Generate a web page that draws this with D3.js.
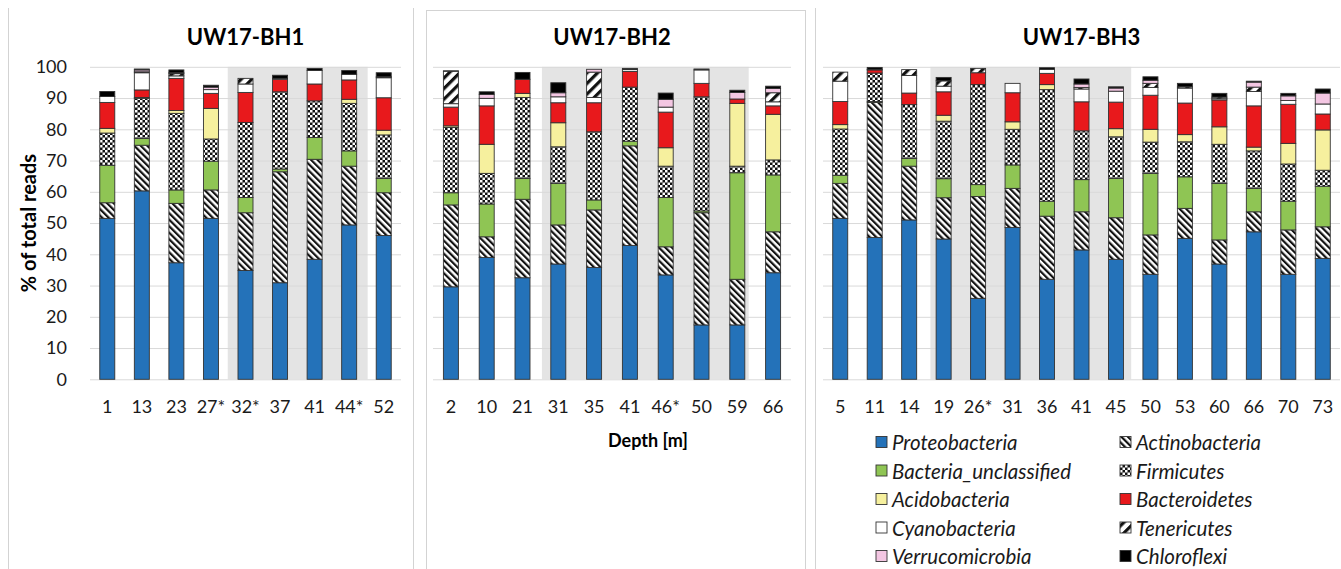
<!DOCTYPE html>
<html>
<head>
<meta charset="utf-8">
<script src="https://cdn.jsdelivr.net/npm/d3@7"></script>
<style>
  html, body { margin: 0; padding: 0; background: #ffffff; }
  svg { display: block; font-family: Lato, "Open Sans", "Liberation Sans", sans-serif; }
</style>
</head>
<body>
<svg id="chart" width="1341" height="569"></svg>
<script>
// ---- Phyla, bottom of stack first ----
const phyla = ["Proteobacteria", "Actinobacteria", "Bacteria_unclassified", "Firmicutes",
  "Acidobacteria", "Bacteroidetes", "Cyanobacteria", "Tenericutes", "Verrucomicrobia", "Chloroflexi"];

const yTicks = [0, 10, 20, 30, 40, 50, 60, 70, 80, 90, 100];

// ---- UW17-BH1 ----
const bh1Depths = ["1", "13", "23", "27*", "32*", "37", "41", "44*", "52"];
const bh1Proteobacteria        = [51.5, 60.3, 37.3, 51.5, 34.8, 30.9, 38.4, 49.4, 46.0];
const bh1Actinobacteria        = [5.0, 14.6, 19.0, 9.1, 18.5, 35.5, 32.0, 18.8, 13.7];
const bh1BacteriaUnclassified  = [12.0, 2.2, 4.3, 9.2, 4.9, 0.9, 7.0, 4.9, 4.6];
const bh1Firmicutes            = [10.3, 12.8, 24.5, 7.1, 24.0, 24.7, 11.7, 15.2, 13.9];
const bh1Acidobacteria         = [1.5, 0.3, 0.9, 9.8, 0, 0, 0, 1.3, 1.5];
const bh1Bacteroidetes         = [8.3, 2.4, 10.3, 4.8, 9.6, 4.0, 5.4, 6.2, 10.4];
const bh1Cyanobacteria         = [1.9, 5.5, 0.8, 1.2, 2.7, 0.3, 4.3, 1.8, 6.4];
const bh1Tenericutes           = [0, 0.3, 0.7, 0, 1.8, 0, 0, 0, 0.3];
const bh1Verrucomicrobia       = [0, 0.6, 0.3, 0.8, 0, 0, 0, 0, 0];
const bh1Chloroflexi           = [1.6, 0.3, 0.9, 0.6, 0, 1.0, 0.7, 1.2, 1.3];

// ---- UW17-BH2 ----
const bh2Depths = ["2", "10", "21", "31", "35", "41", "46*", "50", "59", "66"];
const bh2Proteobacteria        = [29.6, 39.0, 32.5, 36.9, 35.8, 42.8, 33.4, 17.4, 17.4, 34.1];
const bh2Actinobacteria        = [26.2, 6.6, 25.1, 12.5, 18.4, 31.9, 9.0, 35.9, 14.6, 13.1];
const bh2BacteriaUnclassified  = [3.9, 10.5, 6.7, 13.3, 3.2, 1.5, 15.8, 0.6, 34.1, 18.2];
const bh2Firmicutes            = [20.9, 9.8, 25.9, 11.7, 21.8, 17.3, 10.0, 36.5, 2.1, 4.8];
const bh2Acidobacteria         = [0.5, 9.3, 1.3, 7.7, 0, 0, 5.9, 0, 20.1, 14.6];
const bh2Bacteroidetes         = [6.0, 12.3, 4.5, 6.4, 9.3, 5.0, 11.4, 4.3, 1.4, 2.7];
const bh2Cyanobacteria         = [1.1, 2.4, 0, 1.9, 1.7, 0.6, 1.6, 4.3, 0, 1.3];
const bh2Tenericutes           = [10.4, 0, 0, 0, 8.1, 0, 0, 0, 0, 2.9];
const bh2Verrucomicrobia       = [0, 1.3, 0, 1.3, 0.9, 0, 2.5, 0, 2.1, 1.4];
const bh2Chloroflexi           = [0.1, 0.8, 2.2, 3.2, 0, 0.4, 2.0, 0.3, 0.7, 0.7];

// ---- UW17-BH3 ----
const bh3Depths = ["5", "11", "14", "19", "26*", "31", "36", "41", "45", "50", "53", "60", "66", "70", "73"];
const bh3Proteobacteria        = [51.5, 45.4, 51.0, 44.9, 25.9, 48.6, 32.0, 41.4, 38.4, 33.6, 45.1, 36.9, 47.2, 33.6, 38.7];
const bh3Actinobacteria        = [11.2, 43.2, 17.2, 13.2, 32.6, 12.5, 20.2, 12.2, 13.3, 12.6, 9.6, 7.7, 6.4, 14.2, 10.1];
const bh3BacteriaUnclassified  = [2.6, 0.3, 2.5, 6.1, 3.8, 7.5, 4.8, 10.3, 12.6, 19.7, 10.1, 18.1, 7.5, 9.2, 13.0];
const bh3Firmicutes            = [14.8, 9.1, 17.2, 18.4, 32.0, 11.4, 35.7, 15.6, 13.3, 10.0, 11.2, 12.5, 12.0, 11.9, 5.1];
const bh3Acidobacteria         = [1.4, 0, 0, 1.9, 0, 2.4, 1.6, 0, 2.6, 4.1, 2.3, 5.6, 1.2, 6.6, 12.9];
const bh3Bacteroidetes         = [7.4, 1.0, 3.7, 7.5, 3.8, 9.3, 3.6, 9.3, 8.5, 10.9, 10.1, 8.6, 13.2, 12.5, 5.1];
const bh3Cyanobacteria         = [6.5, 0.2, 5.6, 1.8, 0, 3.0, 1.3, 4.1, 3.5, 2.5, 4.8, 0.4, 4.6, 1.2, 3.2];
const bh3Tenericutes           = [2.9, 0, 1.9, 1.7, 1.4, 0, 0, 0.5, 0, 1.3, 0.4, 0.5, 1.4, 0, 0];
const bh3Verrucomicrobia       = [0, 0, 0, 0, 0, 0, 0, 1.1, 1.0, 1.0, 0, 0, 1.6, 1.5, 3.5];
const bh3Chloroflexi           = [0, 0.6, 0, 1.1, 0, 0, 0.5, 1.6, 0.4, 1.1, 1.1, 1.2, 0.3, 0.8, 1.3];

// Shaded depth ranges, as first/last shaded depth per borehole
const bh1Shaded = ["32*", "44*"];
const bh2Shaded = ["31", "59"];
const bh3Shaded = ["19", "45"];

// ---- Layout ----
const W = 1341, H = 569;
const svg = d3.select("#chart");
const y = d3.scaleLinear().domain([0, 100]).range([379.3, 66.8]);
const barW = 15;
const segStroke = "#333333";

const panels = [
  { title: "UW17-BH1", depths: bh1Depths, shaded: bh1Shaded, range: [90, 401], shadeInset: [-0.5, 1.2],
    series: [bh1Proteobacteria, bh1Actinobacteria, bh1BacteriaUnclassified, bh1Firmicutes, bh1Acidobacteria,
             bh1Bacteroidetes, bh1Cyanobacteria, bh1Tenericutes, bh1Verrucomicrobia, bh1Chloroflexi] },
  { title: "UW17-BH2", depths: bh2Depths, shaded: bh2Shaded, range: [433, 791], shadeInset: [1.5, -6.5],
    series: [bh2Proteobacteria, bh2Actinobacteria, bh2BacteriaUnclassified, bh2Firmicutes, bh2Acidobacteria,
             bh2Bacteroidetes, bh2Cyanobacteria, bh2Tenericutes, bh2Verrucomicrobia, bh2Chloroflexi] },
  { title: "UW17-BH3", depths: bh3Depths, shaded: bh3Shaded, range: [823, 1340], shadeInset: [4, -2],
    series: [bh3Proteobacteria, bh3Actinobacteria, bh3BacteriaUnclassified, bh3Firmicutes, bh3Acidobacteria,
             bh3Bacteroidetes, bh3Cyanobacteria, bh3Tenericutes, bh3Verrucomicrobia, bh3Chloroflexi] }
];

// ---- Fill patterns ----
const defs = svg.append("defs");
function stripes(id, size, stripe, angle) {
  const p = defs.append("pattern").attr("id", id).attr("patternUnits", "userSpaceOnUse")
    .attr("width", size).attr("height", size).attr("patternTransform", `rotate(${angle})`);
  p.append("rect").attr("width", size).attr("height", size).attr("fill", "#ffffff");
  p.append("rect").attr("width", stripe).attr("height", size).attr("fill", "#111111");
}
stripes("pat-actino", 4.6, 2.2, -45);
stripes("pat-teneri", 7.5, 3.2, 45);
const chk = defs.append("pattern").attr("id", "pat-firm").attr("patternUnits", "userSpaceOnUse")
  .attr("width", 5).attr("height", 5);
chk.append("rect").attr("width", 5).attr("height", 5).attr("fill", "#111111");
chk.append("rect").attr("width", 2.5).attr("height", 2.5).attr("fill", "#ffffff");
chk.append("rect").attr("x", 2.5).attr("y", 2.5).attr("width", 2.5).attr("height", 2.5).attr("fill", "#ffffff");

const fills = ["#2472b9", "url(#pat-actino)", "#8fc554", "url(#pat-firm)", "#f6f09e",
               "#e8191c", "#ffffff", "url(#pat-teneri)", "#f3c6e2", "#000000"];
const fill = d3.scaleOrdinal().domain(phyla).range(fills);

// ---- Panel frames ----
const frame = svg.append("g").attr("stroke", "#d3d3d3").attr("fill", "none");
frame.append("line").attr("x1", 8.5).attr("x2", 8.5).attr("y1", 8).attr("y2", H);
frame.append("line").attr("x1", 413.5).attr("x2", 413.5).attr("y1", 8).attr("y2", H);
frame.append("rect").attr("x", 426.5).attr("y", 10.5).attr("width", 379).attr("height", H);
frame.append("line").attr("x1", 815.5).attr("x2", 815.5).attr("y1", 8).attr("y2", H);

// ---- Panels ----
panels.forEach(p => {
  const x = d3.scaleBand().domain(p.depths).range(p.range).padding(0);
  const g = svg.append("g");

  // shaded depth interval
  const sx0 = x(p.shaded[0]) + p.shadeInset[0];
  const sx1 = x(p.shaded[1]) + x.bandwidth() + p.shadeInset[1];
  g.append("rect").attr("x", sx0).attr("y", y(100)).attr("width", sx1 - sx0)
    .attr("height", y(0) - y(100)).attr("fill", "#e4e4e4");

  // horizontal gridlines
  const grid = g.append("g").attr("transform", `translate(${p.range[0]},0)`)
    .call(d3.axisLeft(y).tickValues(yTicks).tickSize(-(p.range[1] - p.range[0])).tickFormat(""));
  grid.select(".domain").remove();
  grid.selectAll(".tick line").attr("stroke", "#d9d9d9").attr("stroke-width", 1);

  // stacked bars
  const rows = p.depths.map((d, i) => {
    const r = { depth: d };
    phyla.forEach((k, j) => { r[k] = p.series[j][i]; });
    return r;
  });
  const stacked = d3.stack().keys(phyla)(rows);
  const off = (x.bandwidth() - barW) / 2;
  g.selectAll("g.layer").data(stacked).join("g").attr("class", "layer")
    .attr("fill", d => fill(d.key))
    .selectAll("rect").data(d => d.filter(s => s[1] - s[0] > 0)).join("rect")
    .attr("x", d => x(d.data.depth) + off)
    .attr("width", barW)
    .attr("y", d => y(d[1]))
    .attr("height", d => y(d[0]) - y(d[1]))
    .attr("stroke", segStroke).attr("stroke-width", 0.9);

  // depth labels
  const xa = g.append("g").attr("transform", `translate(0,${y(0)})`)
    .call(d3.axisBottom(x).tickSize(0).tickPadding(21));
  xa.select(".domain").remove();
  xa.selectAll("text").attr("font-size", 18).attr("fill", "#1a1a1a")
    .attr("font-family", "Lato, sans-serif");

  // title
  svg.append("text").attr("x", (p.range[0] + p.range[1]) / 2).attr("y", 45)
    .attr("text-anchor", "middle").attr("font-size", 22).attr("font-weight", "bold")
    .attr("fill", "#000").text(p.title);
});

// ---- Y axis ----
const ya = svg.append("g").attr("transform", "translate(70,0)")
  .call(d3.axisLeft(y).tickValues(yTicks).tickSize(0).tickPadding(3));
ya.select(".domain").remove();
ya.selectAll("text").attr("font-size", 18).attr("fill", "#1a1a1a").attr("font-family", "Lato, sans-serif");

svg.append("text").attr("transform", `translate(28,${(y(0) + y(100)) / 2}) rotate(-90)`)
  .attr("text-anchor", "middle").attr("dominant-baseline", "central")
  .attr("font-size", 20).attr("font-weight", "bold").attr("fill", "#000")
  .text("% of total reads");

svg.append("text").attr("x", 648).attr("y", 447).attr("text-anchor", "middle")
  .attr("font-size", 18).attr("font-weight", "bold").attr("fill", "#000").text("Depth [m]");

// ---- Legend ----
const legendX = [876, 1120];
const legendY0 = 442, legendStep = 28.5;
const lg = svg.append("g");
phyla.forEach((k, i) => {
  const cx = legendX[i % 2], cy = legendY0 + Math.floor(i / 2) * legendStep;
  lg.append("rect").attr("x", cx).attr("y", cy - 5.5).attr("width", 11).attr("height", 11)
    .attr("fill", fill(k)).attr("stroke", segStroke).attr("stroke-width", 0.9);
  lg.append("text").attr("x", cx + 16).attr("y", cy).attr("dominant-baseline", "central")
    .attr("font-size", 20.5).attr("font-style", "italic").attr("fill", "#1a1a1a").text(k);
});
</script>
</body>
</html>
